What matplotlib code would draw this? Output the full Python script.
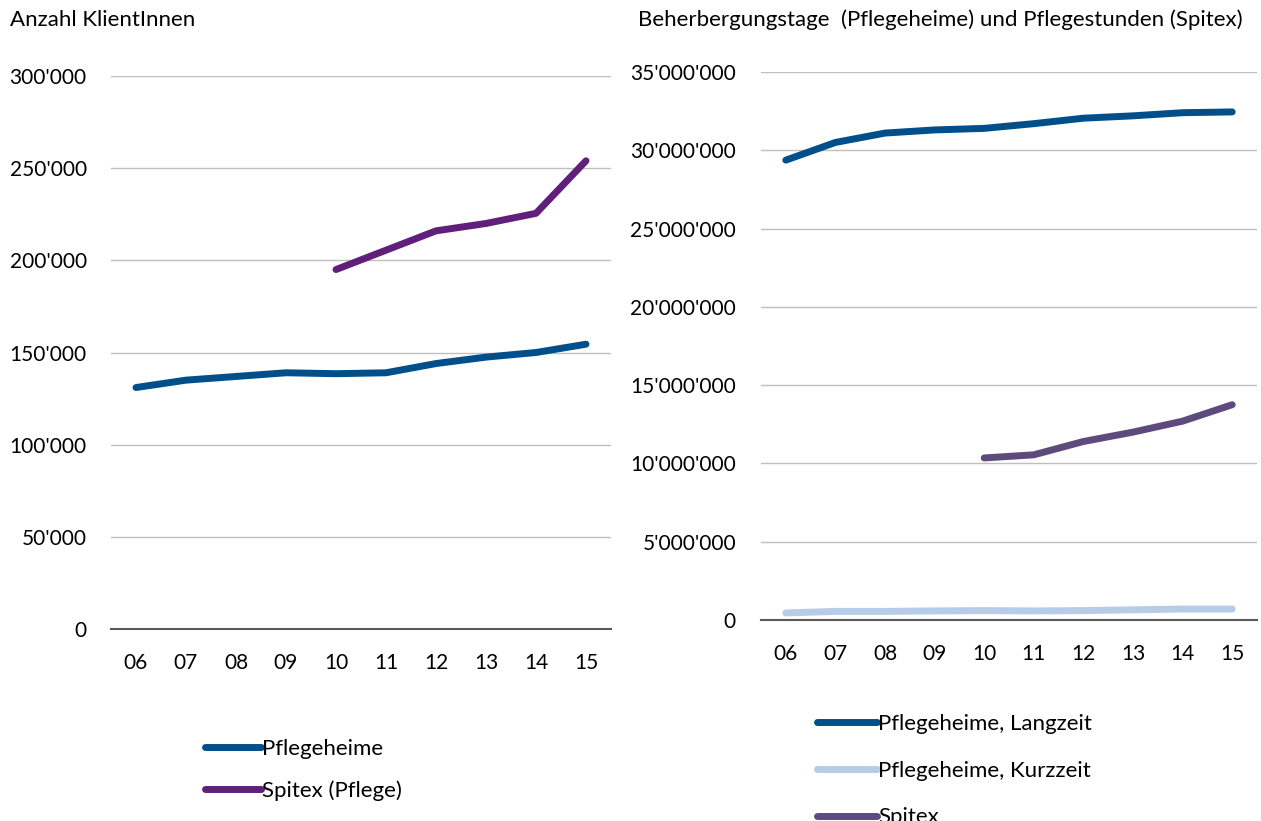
import matplotlib
matplotlib.use("Agg")
import matplotlib.pyplot as plt
from matplotlib.ticker import FuncFormatter, MultipleLocator
import numpy as np

plt.rcParams['font.family'] = ['Lato', 'DejaVu Sans']

years = ["06", "07", "08", "09", "10", "11", "12", "13", "14", "15"]

# Left panel: Anzahl KlientInnen
pflegeheime = [131000, 135000, 137000, 139000, 138500, 139000, 144000, 147500, 150000, 154500]
spitex_pflege = [None, None, None, None, 195000, 205500, 216000, 220000, 225500, 254000]

# Right panel: Beherbergungstage / Pflegestunden
langzeit = [29370000, 30500000, 31100000, 31300000, 31400000, 31700000, 32050000, 32200000, 32400000, 32450000]
kurzzeit = [450000, 550000, 550000, 580000, 600000, 580000, 600000, 650000, 700000, 700000]
spitex = [None, None, None, None, 10350000, 10550000, 11400000, 12000000, 12700000, 13750000]

c_blue = "#004F8A"
c_purple = "#5F1F7A"
c_light = "#B7CCE6"
c_spx = "#5E4A7D"

def fmt(v, pos):
    s = f"{int(round(v)):,}".replace(",", "'")
    return s

def to_arr(lst):
    return np.array([np.nan if v is None else v for v in lst], dtype=float)

fig = plt.figure(figsize=(12.61, 8.21), dpi=100)
axL = fig.add_axes([111/1261, 1-629/821, 500/1261, 553/821])
axR = fig.add_axes([761/1261, 1-620/821, 496/1261, 548/821])

x = np.arange(len(years))
lw = 5
kw = dict(lw=lw, solid_capstyle='round', solid_joinstyle='round')
hL1, = axL.plot(x, to_arr(pflegeheime), color=c_blue, label="Pflegeheime", **kw)
hL2, = axL.plot(x, to_arr(spitex_pflege), color=c_purple, label="Spitex (Pflege)", **kw)
axL.set_ylim(0, 300000)
axL.yaxis.set_major_locator(MultipleLocator(50000))

hR1, = axR.plot(x, to_arr(langzeit), color=c_blue, label="Pflegeheime, Langzeit", **kw)
hR2, = axR.plot(x, to_arr(kurzzeit), color=c_light, label="Pflegeheime, Kurzzeit", **kw)
hR3, = axR.plot(x, to_arr(spitex), color=c_spx, label="Spitex", **kw)
axR.set_ylim(0, 35000000)
axR.yaxis.set_major_locator(MultipleLocator(5000000))

TICK_FS = 15
TXT_FS = 16
for ax, ypad, xpad in ((axL, 17.5, 17.5), (axR, 18, 17)):
    ax.set_xlim(-0.5, 9.5)
    ax.set_xticks(x)
    ax.set_xticklabels(years)
    ax.yaxis.set_major_formatter(FuncFormatter(fmt))
    for s in ("top", "right", "left"):
        ax.spines[s].set_visible(False)
    ax.spines["bottom"].set_color("#595959")
    ax.spines["bottom"].set_linewidth(1.5)
    ax.spines["bottom"].set_zorder(1)
    ax.grid(axis='y', color="#BFBFBF", lw=1.0)
    ax.set_axisbelow(True)
    ax.tick_params(axis='both', length=0, labelsize=TICK_FS, colors="#000000")
    ax.tick_params(axis='y', pad=ypad)
    ax.tick_params(axis='x', pad=xpad)

fig.text(10/1261, 1-20/821, "Anzahl KlientInnen", fontsize=TXT_FS, ha='left', va='center')
fig.text(638/1261, 1-20/821, "Beherbergungstage  (Pflegeheime) und Pflegestunden (Spitex)", fontsize=TXT_FS, ha='left', va='center')

legkw = dict(frameon=False, fontsize=TXT_FS, handletextpad=0.05, borderpad=0, borderaxespad=0)
fig.legend([hL1, hL2], ["Pflegeheime", "Spitex (Pflege)"], loc='upper left',
           bbox_to_anchor=(205/1261, 1-739/821), labelspacing=0.97, handlelength=2.5, **legkw)
fig.legend([hR1, hR2, hR3], ["Pflegeheime, Langzeit", "Pflegeheime, Kurzzeit", "Spitex"], loc='upper left',
           bbox_to_anchor=(817/1261, 1-714/821), labelspacing=1.2, handlelength=2.7, **legkw)

fig.savefig("out.png", dpi=100)
